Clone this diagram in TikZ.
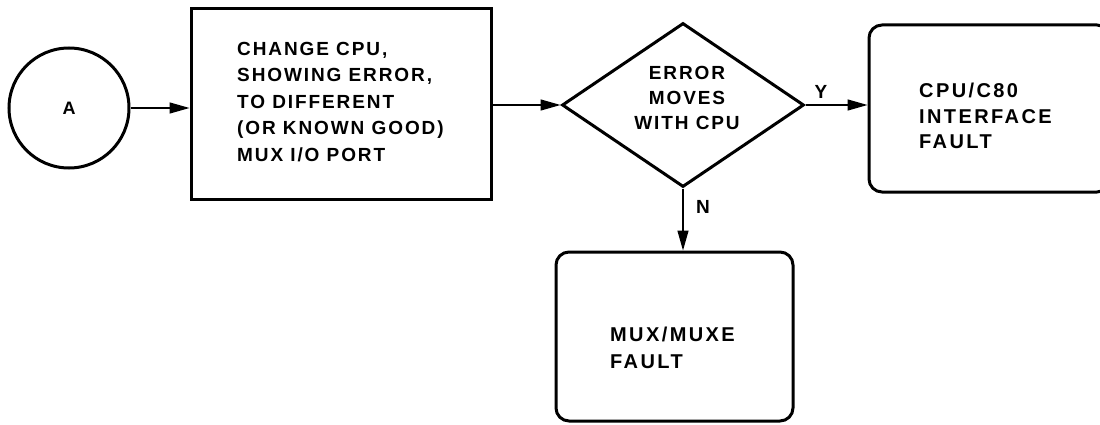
\documentclass[tikz,border=0pt]{standalone}
\usepackage{fontspec}
\setsansfont{Liberation Sans}[LetterSpace=10]
\usetikzlibrary{shapes.geometric,arrows.meta}
\begin{document}
\begin{tikzpicture}[x=1pt,y=-1pt,
  boxline/.style={draw,line width=3pt},
  flow/.style={line width=1.4pt,-{Triangle[length=20pt,width=11pt]}},
  txt/.style={font=\sffamily\bfseries\fontsize{19}{26.5}\selectfont,align=left,inner sep=0pt},
  lbl/.style={font=\sffamily\bfseries\fontsize{19}{22}\selectfont,inner sep=0pt}]
\useasboundingbox (0,0) rectangle (1100,425);
\node[boxline,circle,minimum size=120pt,inner sep=0pt,font=\sffamily\bfseries\fontsize{18}{20}\selectfont] (a) at (69,108) {A};
\node[boxline,rectangle,minimum width=300pt,minimum height=190pt,inner sep=0pt] (b1) at (341,104) {};
\node[txt,anchor=west] (t1) at (237,102) {CHANGE CPU,\\SHOWING ERROR,\\TO DIFFERENT\\(OR KNOWN GOOD)\\MUX I/O PORT};
\node[boxline,diamond,minimum width=242pt,minimum height=164pt,inner sep=0pt] (d) at (683,105) {};
\node[txt,align=center,font=\sffamily\bfseries\fontsize{19}{25}\selectfont] (t2) at (687,98) {ERROR\\MOVES\\WITH CPU};
\node[boxline,rectangle,rounded corners=13pt,minimum width=241pt,minimum height=167pt,inner sep=0pt] (b2) at (989.5,108.5) {};
\node[txt,anchor=west,font=\sffamily\bfseries\fontsize{20}{25.5}\selectfont\addfontfeature{LetterSpace=12}] (t3) at (919,116) {CPU/C80\\INTERFACE\\FAULT};
\node[boxline,rectangle,rounded corners=13pt,minimum width=237pt,minimum height=169pt,inner sep=0pt] (b3) at (674.5,336.5) {};
\node[txt,anchor=west,font=\sffamily\bfseries\fontsize{20}{27}\selectfont\addfontfeature{LetterSpace=12}] (t4) at (610,347.5) {MUX/MUXE\\FAULT};
\node[lbl] (y) at (821,92) {Y};
\node[lbl] (n) at (703,207) {N};
\draw[flow] (a.east) -- (b1.west |- a.east);
\draw[flow] (b1.east |- d.west) -- (d.west);
\draw[flow] (d.east) -- (b2.west |- d.east);
\draw[flow] (d.south) -- (d.south |- b3.north);
\end{tikzpicture}
\end{document}
